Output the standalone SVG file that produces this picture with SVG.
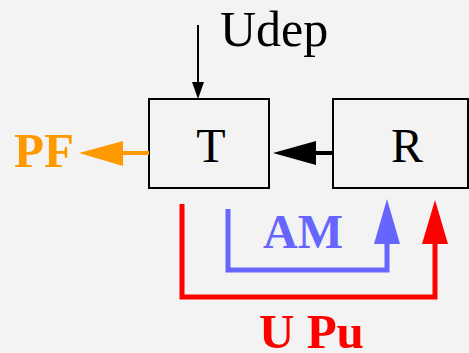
<svg xmlns="http://www.w3.org/2000/svg" width="469" height="353" viewBox="0 0 469 353">
<style>
.box{fill:none;stroke:#000;stroke-width:2}
.t{font-family:"Liberation Serif","Times New Roman",serif}
.b{font-weight:bold}
</style>
<rect width="469" height="353" fill="#F2F3F2"/>
<g id="T"><rect class="box" x="149" y="99" width="120" height="89"/><text class="t" x="211" y="162" font-size="48" text-anchor="middle">T</text></g>
<g id="R"><rect class="box" x="333" y="99" width="135" height="89"/><text class="t" x="407" y="162" font-size="48" text-anchor="middle">R</text></g>
<g id="labels">
<text class="t" x="220" y="46" font-size="50">Udep</text>
<text class="t b" x="14" y="167" font-size="49" fill="#FF9900">PF</text>
<text class="t b" x="263" y="248" font-size="48" fill="#6666FF">AM</text>
<text class="t b" x="259" y="348" font-size="49" fill="#FF0000">U Pu</text>
</g>
<g id="connectors">
<line x1="198" y1="25" x2="198" y2="82" stroke="#000" stroke-width="2"/>
<polygon points="192,82 204,82 198,99" fill="#000"/>
<line x1="149" y1="153" x2="120" y2="153" stroke="#FF9900" stroke-width="4"/>
<polygon points="123,141 123,166 79,153" fill="#FF9900"/>
<line x1="333" y1="153" x2="312" y2="153" stroke="#000" stroke-width="4"/>
<polygon points="316,141 316,165 273,153" fill="#000"/>
<polyline points="182,204 182,297 435,297 435,240" fill="none" stroke="#FF0000" stroke-width="5"/>
<polygon points="422,244 448,244 435,200" fill="#FF0000"/>
<polyline points="228,209 228,270 387,270 387,240" fill="none" stroke="#6666FF" stroke-width="5"/>
<polygon points="374,244 400,244 387,199" fill="#6666FF"/>
</g>
</svg>
